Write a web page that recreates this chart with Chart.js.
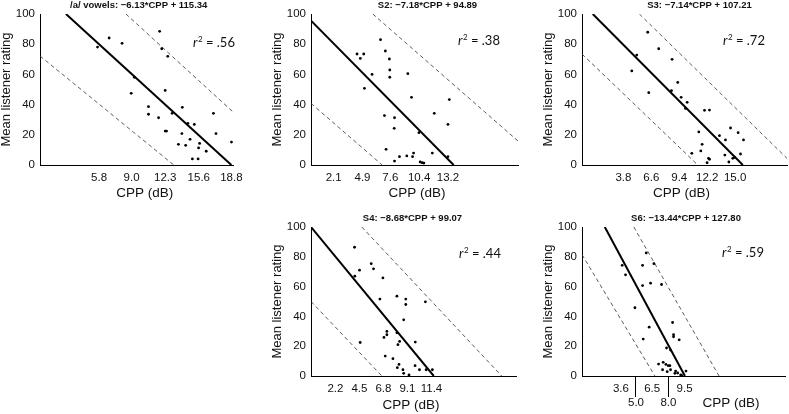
<!DOCTYPE html>
<html lang="en">
	<head>
		<meta charset="UTF-8">
		<title>CPP vs listener rating</title>
		<script src="https://cdn.jsdelivr.net/npm/chart.js@4.4.1/dist/chart.umd.min.js"></script>
		<style>
			html, body { margin: 0; padding: 0; background: #fff; overflow: hidden; width: 789px; height: 414px; }
			canvas { position: absolute; }
		</style>
	</head>
	<body>
		<script>
			// titles and r squared for the five panels
			const titles = ["/a/ vowels: \u22126.13*CPP + 115.34", "S2: \u22127.18*CPP + 94.89", "S3: \u22127.14*CPP + 107.21", "S4: \u22128.68*CPP + 99.07", "S6: \u221213.44*CPP + 127.80"];
			const r2Values = [".56", ".38", ".72", ".44", ".59"];
			const yTicks = [0, 20, 40, 60, 80, 100];

			// panel 1 - /a/ vowels
			const p1Ticks = [5.8, 9.0, 12.3, 15.6, 18.8];
			const p1Range = [0, 19];
			const p1Cpp = [5.65, 6.79, 8.06, 9.27, 8.96, 11.75, 11.96, 12.55, 12.3, 10.66, 10.66, 11.65, 12.98, 13.98, 12.3, 12.43, 13.94, 14.53, 15.16, 13.6, 14.31, 14.74, 15.68, 15.58, 16.33, 14.97, 15.53, 17.04, 17.29, 18.81];
			const p1Rating = [78.1, 84.1, 80.6, 58.1, 47.5, 88.5, 77.0, 72.0, 49.4, 38.6, 33.6, 31.3, 34.2, 38.2, 22.5, 22.5, 20.8, 27.6, 26.9, 13.7, 13.0, 17.0, 14.3, 11.3, 9.1, 4.0, 4.0, 34.2, 20.8, 15.2];
			const p1Fit = [[2.55, 100], [18.8, 0]];
			const p1Upper = [[8.44, 100], [19, 34.9]];
			const p1Lower = [[0, 72.2], [13.14, 0]];

			// panel 2 - S2
			const p2Ticks = [2.1, 4.9, 7.6, 10.4, 13.2];
			const p2Range = [-0.1, 20];
			const p2Cpp = [4.37, 4.69, 5.02, 5.09, 5.83, 6.65, 7.12, 7.51, 7.55, 7.55, 7.03, 8.01, 7.98, 7.19, 8.01, 8.49, 9.2, 9.76, 9.86, 9.3, 9.66, 10.38, 10.5, 10.7, 10.86, 11.68, 11.87, 13.2, 13.33, 13.2];
			const p2Rating = [73.5, 70.6, 73.5, 50.8, 60.0, 83.0, 75.5, 70.2, 62.9, 58.1, 32.7, 31.3, 24.3, 10.4, 2.6, 5.5, 6.0, 5.5, 7.9, 60.5, 44.8, 21.4, 2.0, 1.5, 1.3, 7.9, 34.2, 26.9, 43.3, 5.5];
			const p2Fit = [[-0.1, 95.6], [13.75, 0]];
			const p2Upper = [[5.9, 100], [20, 15.9]];
			const p2Lower = [[-0.1, 40.8], [6.81, 0]];

			// panel 3 - S3
			const p3Ticks = [3.8, 6.6, 9.4, 12.2, 15.0];
			const p3Range = [-0.35, 20.2];
			const p3Cpp = [4.64, 5.14, 6.24, 6.34, 7.34, 8.68, 8.62, 9.25, 9.59, 10.19, 10.02, 11.36, 11.93, 12.43, 11.69, 11.56, 10.66, 12.33, 12.43, 12.19, 13.43, 14.03, 13.97, 14.37, 14.54, 14.77, 14.94, 15.3, 15.54, 15.84];
			const p3Rating = [62.3, 72.8, 87.9, 47.9, 77.0, 70.0, 49.2, 54.7, 44.8, 41.5, 37.5, 21.9, 36.2, 36.4, 13.7, 9.3, 7.7, 4.4, 3.8, 1.5, 19.4, 16.6, 6.6, 2.0, 24.5, 4.4, 5.1, 21.4, 7.3, 16.6];
			const p3Fit = [[0.73, 100], [15.77, 0]];
			const p3Upper = [[5.4, 100], [20.2, 4.4]];
			const p3Lower = [[-0.35, 73.5], [11.26, 0]];

			// panel 4 - S4
			const p4Ticks = [2.2, 4.5, 6.8, 9.1, 11.4];
			const p4Range = [-0.14, 19.5];
			const p4Cpp = [4.03, 4.06, 4.51, 5.63, 5.85, 6.75, 6.46, 8.09, 8.94, 8.94, 8.74, 10.82, 4.57, 7.13, 7.13, 6.85, 8.09, 8.35, 8.19, 9.85, 6.97, 7.71, 8.29, 8.13, 8.67, 8.74, 9.25, 9.83, 10.25, 10.89, 11.49];
			const p4Rating = [86.4, 67.0, 71.0, 75.4, 71.9, 65.8, 51.6, 53.6, 51.6, 48.0, 37.7, 49.8, 22.5, 29.9, 27.7, 25.9, 29.0, 23.2, 21.0, 22.8, 13.4, 11.6, 7.8, 5.6, 4.2, 1.8, 0.7, 6.9, 4.2, 4.2, 4.2];
			const p4Fit = [[-0.14, 100], [11.62, 0]];
			const p4Upper = [[4.73, 100], [18.13, 0]];
			const p4Lower = [[-0.14, 50], [6.65, 0]];

			// panel 5 - S6 (5.0 and 8.0 sit on a second row)
			const p5Ticks = [3.6, 5.0, 6.5, 8.0, 9.5];
			const p5LowTicks = [5.0, 8.0];
			const p5Range = [0, 18.8];
			const p5Cpp = [3.72, 4.03, 4.9, 5.61, 5.61, 5.95, 6.35, 6.66, 5.67, 6.22, 7.37, 7.83, 8.2, 8.39, 8.48, 8.48, 9.0, 7.09, 7.52, 7.77, 7.99, 8.14, 7.46, 7.89, 8.2, 8.67, 8.86, 9.14, 9.63, 9.25, 8.6];
			const p5Rating = [74.3, 67.9, 45.8, 74.3, 60.7, 82.6, 62.3, 75.4, 24.8, 32.8, 61.4, 18.8, 17.4, 35.9, 27.7, 26.3, 24.3, 8.0, 9.2, 7.8, 6.9, 6.9, 4.2, 2.9, 4.2, 3.3, 2.0, 0.7, 3.3, 0.3, 1.8];
			const p5Fit = [[2.11, 100], [9.53, 0]];
			const p5Upper = [[4.8, 100], [12.69, 0]];
			const p5Lower = [[0, 81.5], [6.75, 0]];

			const panels = [
				{cpp: p1Cpp, rating: p1Rating, fit: p1Fit, upper: p1Upper, lower: p1Lower, ticks: p1Ticks, range: p1Range, low: []},
				{cpp: p2Cpp, rating: p2Rating, fit: p2Fit, upper: p2Upper, lower: p2Lower, ticks: p2Ticks, range: p2Range, low: []},
				{cpp: p3Cpp, rating: p3Rating, fit: p3Fit, upper: p3Upper, lower: p3Lower, ticks: p3Ticks, range: p3Range, low: []},
				{cpp: p4Cpp, rating: p4Rating, fit: p4Fit, upper: p4Upper, lower: p4Lower, ticks: p4Ticks, range: p4Range, low: []},
				{cpp: p5Cpp, rating: p5Rating, fit: p5Fit, upper: p5Upper, lower: p5Lower, ticks: p5Ticks, range: p5Range, low: p5LowTicks}
			];

			// where each plot area sits on the page, plus text offsets
			const boxes = [
				{area: [40, 14, 245, 165], titleDx: 2, xTitleDx: 8, xTitleDy: 28.5, rPos: [153, 33]},
				{area: [311, 14, 518, 165], titleDx: 13, xTitleDx: 2.5, xTitleDy: 28.5, rPos: [147, 31]},
				{area: [582, 14, 787, 165], titleDx: 15, xTitleDx: -3, xTitleDy: 28.5, rPos: [141, 31]},
				{area: [311, 227, 516, 376], titleDx: -1, xTitleDx: -2.5, xTitleDy: 29, rPos: [148, 31]},
				{area: [582, 227, 785, 376], titleDx: 2.5, xTitleDx: 47.5, xTitleDy: 27.5, rPos: [140, 30]}
			];
			const ML = 45, MT = 16, MR = 4, MB = 40;

			Chart.defaults.font.family = '"Liberation Sans", Arial, sans-serif';
			Chart.defaults.color = '#111';

			// title, x-axis title and r^2 drawn around the plot area
			const panelText = {
				id: 'panelText',
				afterDraw(chart, args, opts) {
					const ctx = chart.ctx;
					const a = chart.chartArea;
					const cx = (a.left + a.right) / 2;
					ctx.save();
					ctx.fillStyle = '#111';
					ctx.textAlign = 'center';
					ctx.textBaseline = 'middle';
					ctx.font = 'bold 9.5px "Liberation Sans Narrow", "Liberation Sans", Arial, sans-serif';
					ctx.fillText(opts.title, cx + opts.titleDx, a.top - 9);
					ctx.font = '13.5px "Liberation Sans", Arial, sans-serif';
					ctx.fillText('CPP (dB)', cx + opts.xTitleDx, a.bottom + opts.xTitleDy);

					ctx.textAlign = 'left';
					ctx.textBaseline = 'alphabetic';
					let x = a.left + opts.rPos[0];
					const y = a.top + opts.rPos[1];
					ctx.font = 'italic 13px Lato, "Open Sans", sans-serif';
					ctx.fillText('r', x, y);
					x += ctx.measureText('r').width + 0.5;
					ctx.font = '8px Lato, "Open Sans", sans-serif';
					ctx.fillText('2', x, y - 5);
					x += ctx.measureText('2').width;
					ctx.font = '13px Lato, "Open Sans", sans-serif';
					ctx.fillText(' = ' + opts.r2, x, y);
					ctx.restore();
				}
			};

			function lineSet(pts, color, width, dash) {
				return {
					data: pts.map(p => ({x: p[0], y: p[1]})),
					showLine: true,
					borderColor: color,
					borderWidth: width,
					borderDash: dash,
					pointRadius: 0
				};
			}

			boxes.forEach((b, i) => {
				const p = panels[i];
				const [l, t, r, btm] = b.area;
				const cv = document.createElement('canvas');
				cv.width = r - l + ML + MR;
				cv.height = btm - t + MT + MB;
				cv.style.left = (l - ML) + 'px';
				cv.style.top = (t - MT) + 'px';
				document.body.appendChild(cv);

				const twoRow = p.low.length > 0;
				new Chart(cv, {
					type: 'scatter',
					data: {
						datasets: [
							{
								data: p.cpp.map((x, k) => ({x: x, y: p.rating[k]})),
								pointRadius: 1.4,
								pointBackgroundColor: '#000',
								pointBorderWidth: 0
							},
							lineSet(p.fit, '#000', 2, []),
							lineSet(p.upper, '#333', 0.8, [4, 3]),
							lineSet(p.lower, '#333', 0.8, [4, 3])
						]
					},
					options: {
						responsive: false,
						animation: false,
						devicePixelRatio: 1,
						layout: {padding: {left: 0, top: MT, right: MR, bottom: 0}, autoPadding: false},
						plugins: {
							legend: {display: false},
							tooltip: {enabled: false},
							panelText: {title: titles[i], r2: r2Values[i], titleDx: b.titleDx, xTitleDx: b.xTitleDx, xTitleDy: b.xTitleDy, rPos: b.rPos}
						},
						scales: {
							x: {
								type: 'linear',
								min: p.range[0],
								max: p.range[1],
								afterFit: s => { s.height = MB; },
								afterBuildTicks: s => { s.ticks = p.ticks.map(v => ({value: v})); },
								border: {color: '#000', width: 1},
								grid: twoRow ? {
									display: true,
									drawOnChartArea: false,
									drawTicks: true,
									tickLength: 21,
									tickWidth: 1,
									tickColor: c => (c.tick && p.low.includes(c.tick.value)) ? '#000' : 'rgba(0,0,0,0)'
								} : {display: false, drawTicks: false},
								ticks: {
									autoSkip: false,
									maxRotation: 0,
									padding: twoRow ? -14.6 : 6.4,
									font: {size: 11.5},
									color: '#111',
									callback: v => p.low.includes(v) ? ['', v.toFixed(1)] : v.toFixed(1)
								}
							},
							y: {
								min: 0,
								max: 100,
								afterFit: s => { s.width = ML; },
								afterBuildTicks: s => { s.ticks = yTicks.map(v => ({value: v})); },
								border: {color: '#000', width: 1},
								grid: {display: false, drawTicks: false},
								ticks: {padding: 5, font: {size: 11.5}, color: '#111'},
								title: {display: true, text: 'Mean listener rating', font: {size: 13}, color: '#111', padding: {top: 3.5, bottom: 0}}
							}
						}
					},
					plugins: [panelText]
				});
			});
		</script>
	</body>
</html>
